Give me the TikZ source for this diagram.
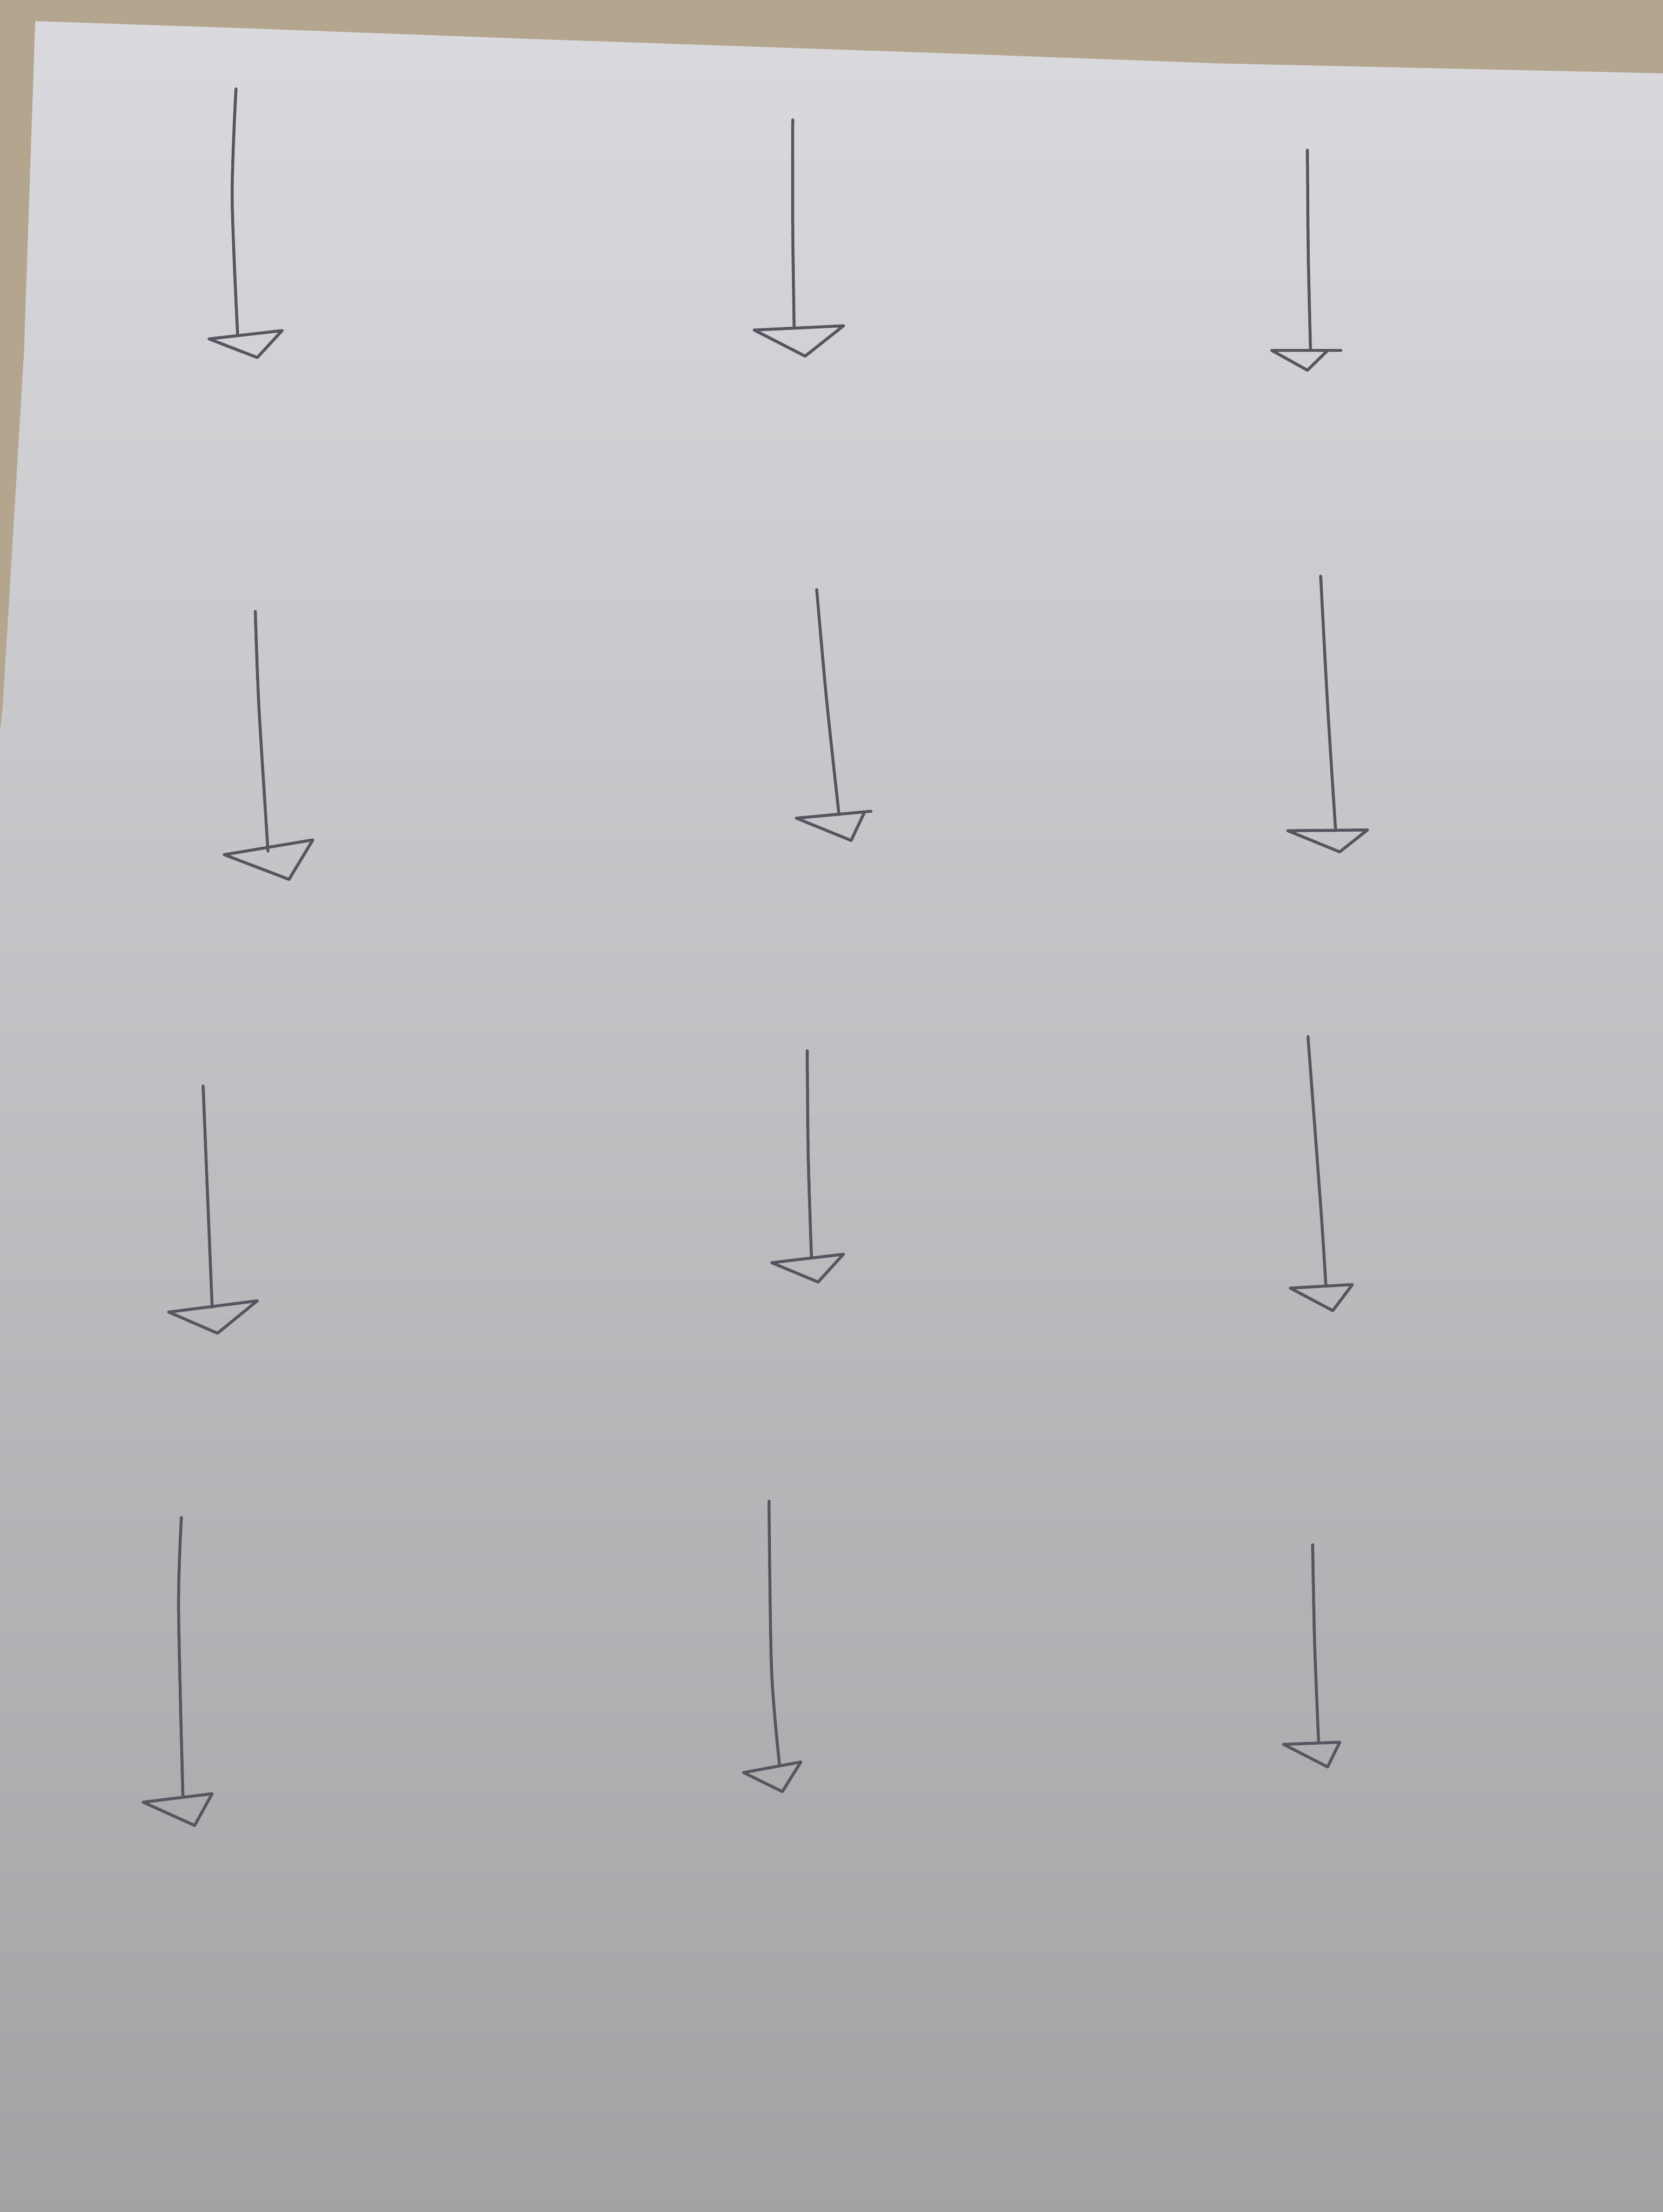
\documentclass[tikz,border=0pt]{standalone}
\usepackage{tikz}
\usetikzlibrary{calc}
\definecolor{tabletan}{RGB}{180,166,142}
\definecolor{papertop}{RGB}{218,218,222}
\definecolor{paperbottom}{RGB}{163,163,166}
\definecolor{lead}{RGB}{86,86,96}
\tikzset{
  pencil/.style={draw=lead, line width=0.6pt, line cap=round, line join=round},
  head/.style={pencil}
}
\begin{document}
\begin{tikzpicture}[x=0.01cm, y=-0.01cm]

\useasboundingbox (0,0) rectangle (1179,1568.4);

% table and sheet of paper
\fill[tabletan] (0,0) rectangle (1179,1568.4);
\shade[top color=papertop, bottom color=paperbottom] (25,15) -- (173,20) -- (376,27.6) -- (677,38) -- (865,45) -- (1179,52) -- (1179,1568.4) -- (0,1568.4) -- (0,520) -- (2,500) -- (17,250) -- cycle;

% column 1
\coordinate (a1s) at (167.3,63);  \coordinate (a1m) at (164.6,140); \coordinate (a1e) at (168.5,238);
\coordinate (b1s) at (181,433.5); \coordinate (b1m) at (183.5,500); \coordinate (b1e) at (190,603.5);
\coordinate (c1s) at (144,770);   \coordinate (c1m) at (146.6,834); \coordinate (c1e) at (150.4,926.8);
\coordinate (d1s) at (128.6,1076);\coordinate (d1m) at (126.6,1140); \coordinate (d1e) at (129.7,1274.3);

% column 2
\coordinate (a2s) at (562,85);    \coordinate (a2m) at (562,160);   \coordinate (a2e) at (563,231);
\coordinate (b2s) at (579,418);   \coordinate (b2m) at (586,496);   \coordinate (b2e) at (594.8,577.5);
\coordinate (c2s) at (572.3,745); \coordinate (c2m) at (573,820);   \coordinate (c2e) at (575.3,891.8);
\coordinate (d2s) at (545.2,1064.3); \coordinate (d2m) at (547,1184); \coordinate (d2e) at (552.7,1251.8);

% column 3
\coordinate (a3s) at (926.9,106.5); \coordinate (a3m) at (927.5,180); \coordinate (a3e) at (929.1,248.5);
\coordinate (b3s) at (936.3,408.5); \coordinate (b3m) at (941.2,500); \coordinate (b3e) at (946.8,587.5);
\coordinate (c3s) at (927.3,735);   \coordinate (c3m) at (936.6,859.3); \coordinate (c3e) at (940,911.8);
\coordinate (d3s) at (930.6,1095.3); \coordinate (d3m) at (932,1165); \coordinate (d3e) at (934.8,1234.3);

% shafts
\draw[pencil] plot[smooth] coordinates {(a1s) (a1m) (a1e)};
\draw[pencil] plot[smooth] coordinates {(b1s) (b1m) (b1e)};
\draw[pencil] plot[smooth] coordinates {(c1s) (c1m) (c1e)};
\draw[pencil] plot[smooth] coordinates {(d1s) (d1m) (d1e)};
\draw[pencil] plot[smooth] coordinates {(a2s) (a2m) (a2e)};
\draw[pencil] plot[smooth] coordinates {(b2s) (b2m) (b2e)};
\draw[pencil] plot[smooth] coordinates {(c2s) (c2m) (c2e)};
\draw[pencil] plot[smooth] coordinates {(d2s) (d2m) (d2e)};
\draw[pencil] plot[smooth] coordinates {(a3s) (a3m) (a3e)};
\draw[pencil] plot[smooth] coordinates {(b3s) (b3m) (b3e)};
\draw[pencil] plot[smooth] coordinates {(c3s) (c3m) (c3e)};
\draw[pencil] plot[smooth] coordinates {(d3s) (d3m) (d3e)};

% open heads, drawn by hand
\draw[head] (148.2,240.3) -- (200,234.4) -- (182.4,253.5) -- cycle;
\draw[head] (159,606) -- (221.8,595.5) -- (204.9,623.5) -- cycle;
\draw[head] (119.6,930.3) -- (182.4,922.3) -- (154.2,945.3) -- cycle;
\draw[head] (101.5,1277.8) -- (150.4,1271.8) -- (138,1294.3) -- cycle;

\draw[head] (534.7,234) -- (598,231) -- (570.8,252.5) -- cycle;
\draw[head] (564.6,580.1) -- (617.5,575.2);
\draw[head] (564.6,580.1) -- (603.4,595.9) -- (612.5,576.7);
\draw[head] (547.1,895.3) -- (597.9,889.3) -- (580,909) -- cycle;
\draw[head] (527.2,1256.8) -- (567.8,1249.3) -- (554.6,1270.3) -- cycle;

\draw[head] (901.7,248.5) -- (950.6,248.5);
\draw[head] (901.7,248.5) -- (926.9,262.5) -- (941.2,248.5);
\draw[head] (913,589) -- (969.4,588.5) -- (949.8,604) -- cycle;
\draw[head] (914.8,913.3) -- (958.8,910.8) -- (944.9,929.3) -- cycle;
\draw[head] (910,1236.8) -- (949.8,1235.3) -- (941.2,1252.8) -- cycle;

\end{tikzpicture}
\end{document}
